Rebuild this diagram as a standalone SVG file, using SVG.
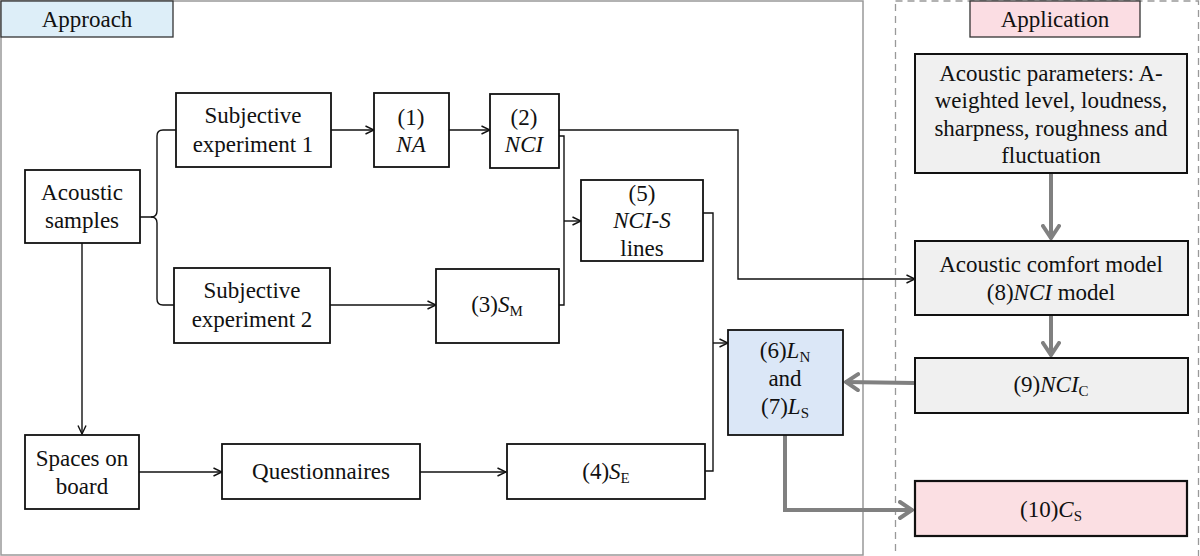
<svg xmlns="http://www.w3.org/2000/svg" width="1200" height="556" viewBox="0 0 1200 556" font-family="Liberation Serif, serif">
<style>
text{font-size:23px;fill:#111;text-anchor:middle}
.it{font-style:italic}
.sub{font-size:15px}
.box{fill:#fff;stroke:#111;stroke-width:1.8}
.gbox{fill:#f0f0f0;stroke:#111;stroke-width:2}
.c{fill:none;stroke:#111;stroke-width:1.4}
.g{fill:none;stroke:#808080;stroke-width:4}
</style>
<defs>
<marker id="ah" viewBox="0 0 10 10" refX="9.5" refY="5" markerWidth="10" markerHeight="10" markerUnits="userSpaceOnUse" orient="auto">
<path d="M1,1 L9.5,5 L1,9" fill="none" stroke="#111" stroke-width="1.4"/>
</marker>
<marker id="gh" viewBox="0 0 16 20" refX="15" refY="10" markerWidth="16" markerHeight="20" markerUnits="userSpaceOnUse" orient="auto">
<path d="M2,2 L14,10 L2,18" fill="none" stroke="#808080" stroke-width="4" stroke-linecap="round"/>
</marker>
</defs>

<g id="frames">
<rect x="1" y="1" width="862" height="554" fill="none" stroke="#999" stroke-width="1.5"/>
<rect x="895.5" y="1" width="303" height="560" fill="none" stroke="#999" stroke-width="1.3" stroke-dasharray="7,5"/>
</g>

<g id="approach-label">
<rect x="1" y="1" width="172" height="36" fill="#ddeef8" stroke="#333" stroke-width="1.3"/>
<text x="87" y="27">Approach</text>
</g>
<g id="application-label">
<rect x="970" y="1" width="170" height="36" fill="#fbdde3" stroke="#333" stroke-width="1.3"/>
<text x="1055" y="27">Application</text>
</g>

<g id="connectors">
<path class="c" d="M140,217 H151 Q157,217 157,211 V136 Q157,130 163,130 H176"/>
<path class="c" d="M151,217 Q157,217 157,223 V299 Q157,305 163,305 H174"/>
<line class="c" x1="331" y1="130" x2="374" y2="130" marker-end="url(#ah)"/>
<line class="c" x1="449" y1="130" x2="490" y2="130" marker-end="url(#ah)"/>
<path class="c" d="M559,130 H738 V279 H915" marker-end="url(#ah)"/>
<path class="c" d="M559,136 H564 V305 H559"/>
<line class="c" x1="564" y1="221" x2="581" y2="221" marker-end="url(#ah)"/>
<path class="c" d="M703,213 H713 V471 H705"/>
<line class="c" x1="713" y1="343" x2="728" y2="343" marker-end="url(#ah)"/>
<line class="c" x1="330" y1="305" x2="436" y2="305" marker-end="url(#ah)"/>
<line class="c" x1="82" y1="243" x2="82" y2="434" marker-end="url(#ah)"/>
<line class="c" x1="139" y1="472" x2="222" y2="472" marker-end="url(#ah)"/>
<line class="c" x1="420" y1="472" x2="506" y2="472" marker-end="url(#ah)"/>
<line class="g" x1="1051" y1="173" x2="1051" y2="239" marker-end="url(#gh)"/>
<line class="g" x1="1051" y1="315" x2="1051" y2="356" marker-end="url(#gh)"/>
<line class="g" x1="915" y1="383" x2="845" y2="382" marker-end="url(#gh)"/>
<path class="g" d="M785,435 V510 H913" marker-end="url(#gh)"/>
</g>

<g id="acoustic-samples">
<rect class="box" x="25" y="170" width="115" height="73"/>
<text x="82" y="200">Acoustic</text>
<text x="82" y="228">samples</text>
</g>
<g id="subjective-1">
<rect class="box" x="176" y="93" width="155" height="74"/>
<text x="253" y="123">Subjective</text>
<text x="253" y="152">experiment 1</text>
</g>
<g id="na">
<rect class="box" x="374" y="93" width="75" height="74"/>
<text x="411" y="125">(1)</text>
<text x="411" y="152" class="it">NA</text>
</g>
<g id="nci">
<rect class="box" x="490" y="94" width="69" height="74"/>
<text x="524" y="125">(2)</text>
<text x="524" y="152" class="it">NCI</text>
</g>
<g id="nci-s">
<rect class="box" x="581" y="180" width="122" height="81"/>
<text x="642" y="201">(5)</text>
<text x="642" y="228"><tspan class="it">NCI</tspan>-<tspan class="it">S</tspan></text>
<text x="642" y="256">lines</text>
</g>
<g id="subjective-2">
<rect class="box" x="174" y="268" width="156" height="75"/>
<text x="252" y="298">Subjective</text>
<text x="252" y="327">experiment 2</text>
</g>
<g id="sm">
<rect class="box" x="436" y="269" width="123" height="74"/>
<text x="497" y="312">(3)<tspan class="it">S</tspan><tspan class="sub" dy="4">M</tspan></text>
</g>
<g id="spaces">
<rect class="box" x="25" y="435" width="114" height="74"/>
<text x="82" y="466">Spaces on</text>
<text x="82" y="494">board</text>
</g>
<g id="questionnaires">
<rect class="box" x="222" y="444" width="198" height="55"/>
<text x="321" y="479">Questionnaires</text>
</g>
<g id="se">
<rect class="box" x="507" y="444" width="198" height="55"/>
<text x="606" y="479">(4)<tspan class="it">S</tspan><tspan class="sub" dy="4">E</tspan></text>
</g>
<g id="ln-ls">
<rect x="728" y="330" width="115" height="105" fill="#dbe7f7" stroke="#111" stroke-width="1.8"/>
<text x="785" y="358">(6)<tspan class="it">L</tspan><tspan class="sub" dy="4">N</tspan></text>
<text x="785" y="386">and</text>
<text x="785" y="414">(7)<tspan class="it">L</tspan><tspan class="sub" dy="4">S</tspan></text>
</g>
<g id="acoustic-parameters">
<rect class="gbox" x="915" y="54" width="272" height="119"/>
<text x="1051" y="81">Acoustic parameters: A-</text>
<text x="1051" y="108">weighted level, loudness,</text>
<text x="1051" y="136">sharpness, roughness and</text>
<text x="1051" y="163">fluctuation</text>
</g>
<g id="comfort-model">
<rect class="gbox" x="915" y="241" width="273" height="74"/>
<text x="1051" y="272">Acoustic comfort model</text>
<text x="1051" y="300">(8)<tspan class="it">NCI</tspan> model</text>
</g>
<g id="nci-c">
<rect class="gbox" x="915" y="358" width="273" height="55"/>
<text x="1051" y="392">(9)<tspan class="it">NCI</tspan><tspan class="sub" dy="4">C</tspan></text>
</g>
<g id="cs">
<rect x="915" y="481" width="272" height="55" fill="#fbdfe3" stroke="#111" stroke-width="2.2"/>
<text x="1051" y="517">(10)<tspan class="it">C</tspan><tspan class="sub" dy="4">S</tspan></text>
</g>
</svg>
